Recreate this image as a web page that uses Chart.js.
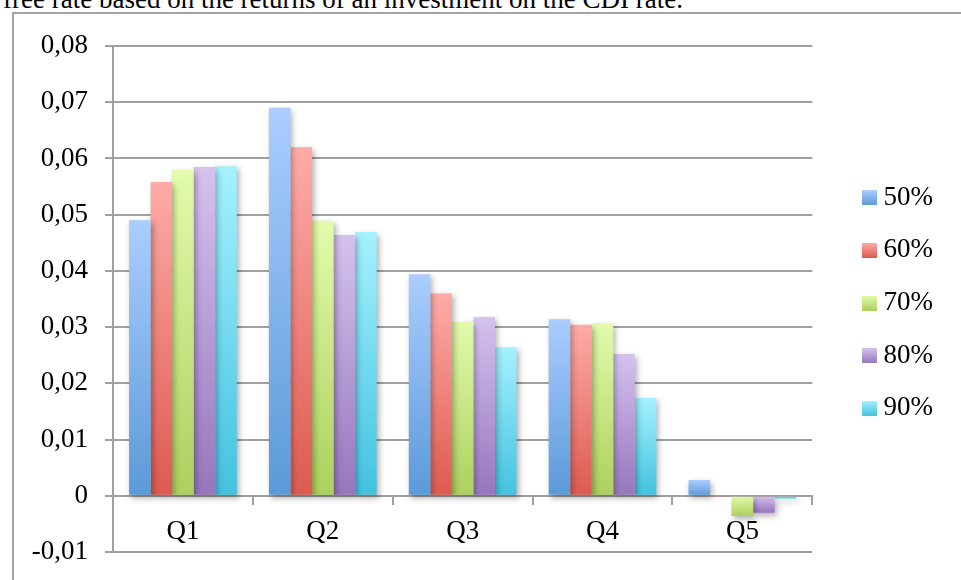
<!DOCTYPE html>
<html>
<head>
<meta charset="utf-8">
<script src="https://cdn.jsdelivr.net/npm/chart.js@4"></script>
<style>
  html, body { margin: 0; padding: 0; background: #fff; overflow: hidden; }
  #wrap { position: relative; width: 961px; height: 580px; overflow: hidden; }
  #caption { position: absolute; left: 3px; top: -16px; font: 27px 'Liberation Serif', serif; white-space: nowrap; color: #000; }
  #frame { position: absolute; left: 12px; top: 12px; width: 1000px; height: 640px; border: 2px solid #a3a3a3; }
  #chart { position: absolute; left: 0; top: 0; }
</style>
</head>
<body>
<div id="wrap">
  <div id="caption">free rate based on the returns of an investment on the CDI rate.</div>
  <div id="frame"></div>
  <canvas id="chart" width="961" height="580"></canvas>
</div>
<script>
// Quintile returns for each threshold level
const categories = ['Q1', 'Q2', 'Q3', 'Q4', 'Q5'];
const seriesNames = ['50%', '60%', '70%', '80%', '90%'];
const s50 = [0.0490, 0.0690, 0.0394, 0.0314, 0.0028];
const s60 = [0.0558, 0.0620, 0.0360, 0.0304, -0.0002];
const s70 = [0.0580, 0.0489, 0.0309, 0.0307, -0.0036];
const s80 = [0.0585, 0.0464, 0.0318, 0.0252, -0.0030];
const s90 = [0.0586, 0.0469, 0.0264, 0.0174, -0.0005];
const yTickLabels = ['-0,01', '0', '0,01', '0,02', '0,03', '0,04', '0,05', '0,06', '0,07', '0,08'];

// Light (top) and deep (bottom) shade of each series
const topColors = ['#abcdff', '#ffaba8', '#e3fbac', '#d5c2ef', '#a5f1ff'];
const bottomColors = ['#5a9ad8', '#dc5a4f', '#acd05d', '#9676bd', '#42c2df'];

const seriesValues = [s50, s60, s70, s80, s90];
const GRID = '#a0a0a0';
const FONT = { family: "'Liberation Serif', serif", size: 27 };

// Vertical gradient that runs over the height of one bar
function barGradient(c, i) {
  const chart = c.chart;
  const y = chart.scales && chart.scales.y;
  if (c.type !== 'data' || !y || !c.parsed) return bottomColors[i];
  const y0 = y.getPixelForValue(0);
  const y1 = y.getPixelForValue(c.parsed.y);
  if (!isFinite(y0) || !isFinite(y1) || Math.abs(y1 - y0) < 0.5) return bottomColors[i];
  const g = chart.ctx.createLinearGradient(0, Math.min(y0, y1), 0, Math.max(y0, y1));
  g.addColorStop(0, topColors[i]);
  g.addColorStop(1, bottomColors[i]);
  return g;
}

// Small gradient square used as legend marker
function legendSwatch(i) {
  const cv = document.createElement('canvas');
  cv.width = 15; cv.height = 15;
  const cx = cv.getContext('2d');
  const g = cx.createLinearGradient(0, 0, 0, 15);
  g.addColorStop(0, topColors[i]);
  g.addColorStop(1, bottomColors[i]);
  cx.fillStyle = g;
  cx.fillRect(0, 0, 15, 15);
  return cv;
}

// Soft drop shadow under the bars
const barShadow = {
  id: 'barShadow',
  beforeDatasetsDraw(chart) {
    const c = chart.ctx;
    c.save();
    c.shadowColor = 'rgba(0,0,0,0.32)';
    c.shadowBlur = 6;
    c.shadowOffsetX = 2;
    c.shadowOffsetY = 3;
  },
  afterDatasetsDraw(chart) {
    chart.ctx.restore();
  }
};

new Chart(document.getElementById('chart'), {
  type: 'bar',
  data: {
    labels: categories,
    datasets: seriesNames.map((name, i) => ({
      label: name,
      data: seriesValues[i],
      backgroundColor: c => barGradient(c, i),
      borderWidth: 0,
      categoryPercentage: 0.77,
      barPercentage: 1.0
    }))
  },
  options: {
    responsive: false,
    animation: false,
    layout: { padding: { top: 46, bottom: 28, left: 0, right: 18 } },
    plugins: {
      tooltip: { enabled: false },
      legend: {
        position: 'right',
        // empty spacer title nudges the legend column down a little
        title: { display: true, text: '', font: { size: 1, lineHeight: 8 }, padding: 0 },
        labels: {
          font: FONT,
          color: '#000',
          usePointStyle: true,
          pointStyleWidth: 0.1,
          padding: 25.6,
          generateLabels: chart => chart.data.datasets.map((ds, i) => ({
            text: ds.label,
            pointStyle: legendSwatch(i),
            fillStyle: bottomColors[i],
            strokeStyle: 'rgba(0,0,0,0)',
            lineWidth: 0,
            hidden: false,
            datasetIndex: i,
            fontColor: '#000'
          }))
        }
      }
    },
    scales: {
      x: {
        position: { y: 0 },
        grid: { display: true, drawOnChartArea: false, drawTicks: true, tickLength: 8, color: GRID, lineWidth: 2 },
        border: { display: true, color: GRID, width: 2 },
        ticks: { font: FONT, color: '#000', padding: 12 }
      },
      y: {
        min: -0.01,
        max: 0.08,
        ticks: {
          stepSize: 0.01,
          font: FONT,
          color: '#000',
          padding: 17,
          callback: (v, idx) => yTickLabels[idx]
        },
        grid: { color: GRID, lineWidth: 2, tickLength: 8 },
        border: { color: GRID, width: 2 },
        afterFit: s => { s.width = 113; s.paddingTop = 10; s.paddingBottom = 10; }
      },
      gap: {
        position: 'right',
        display: true,
        grid: { display: false },
        border: { display: false },
        ticks: { display: false },
        afterFit: s => { s.width = 32; }
      }
    }
  },
  plugins: [barShadow]
});
</script>
</body>
</html>
